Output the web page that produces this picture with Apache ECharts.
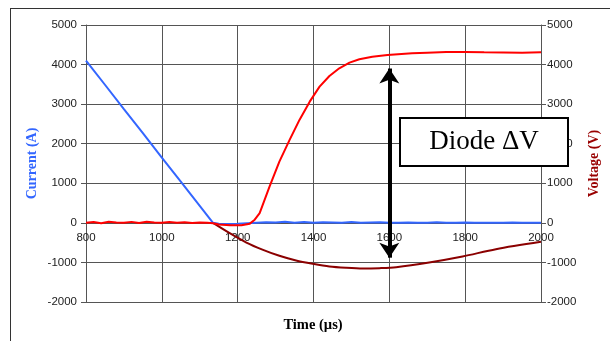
<!DOCTYPE html>
<html>
<head>
<meta charset="utf-8">
<script src="https://cdn.jsdelivr.net/npm/echarts@6/dist/echarts.min.js"></script>
<style>html,body{margin:0;padding:0;background:#fff;}#c{width:610px;height:341px;}</style>
</head>
<body>
<div id="c"></div>
<script>
// X axis (time, µs) and Y axes ticks
const xTicks = [800, 1000, 1200, 1400, 1600, 1800, 2000];
const yTicks = [-2000, -1000, 0, 1000, 2000, 3000, 4000, 5000];

// Current (A) - blue
const currentTime = [800, 850, 900, 950, 1000, 1050, 1100, 1135, 1150, 1175, 1200, 1225, 1250, 1275, 1300, 1325, 1350, 1375, 1400, 1425, 1450, 1475, 1500, 1525, 1550, 1575, 1600, 1625, 1650, 1675, 1700, 1725, 1750, 1775, 1800, 1825, 1850, 1875, 1900, 1925, 1950, 1975, 2000];
const currentValues = [4100, 3490, 2875, 2265, 1650, 1040, 430, 0, -20, -30, -25, -10, 5, 15, 10, 25, 5, 20, 0, 15, 10, 5, 20, 0, 10, 15, 5, 0, 10, 5, 0, 15, 5, 0, 10, 5, 0, 5, 0, 10, 0, 5, 0];

// Voltage (V) - red
const voltageTime = [800, 820, 840, 860, 880, 900, 920, 940, 960, 980, 1000, 1020, 1040, 1060, 1080, 1100, 1120, 1135, 1150, 1180, 1210, 1232, 1245, 1258, 1284, 1310, 1337, 1363, 1390, 1416, 1442, 1468, 1495, 1521, 1555, 1595, 1660, 1700, 1750, 1800, 1850, 1900, 1950, 2000];
const voltageValues = [0, 20, -10, 30, 10, 0, 25, -5, 30, 10, 0, 20, 5, 15, -5, 10, 0, -10, -40, -60, -60, -20, 80, 245, 917, 1548, 2096, 2601, 3063, 3442, 3712, 3906, 4048, 4134, 4200, 4242, 4288, 4300, 4315, 4320, 4310, 4305, 4300, 4310];

// Reverse current - dark red
const reverseTime = [1135, 1179, 1223, 1267, 1310, 1354, 1398, 1442, 1486, 1530, 1574, 1618, 1705, 1793, 1881, 2000];
const reverseValues = [0, -260, -497, -682, -833, -952, -1035, -1103, -1136, -1154, -1145, -1120, -1002, -851, -665, -480];

// Annotation arrow (time, from, to)
const arrowTime = 1600;
const arrowFrom = 3900;
const arrowTo = -880;

const zip = (a, b) => a.map((v, i) => [v, b[i]]);

const chart = echarts.init(document.getElementById('c'), null, {renderer: 'canvas'});
const labelStyle = {color: '#222', fontSize: 11.5, fontFamily: 'Liberation Sans, Arial, sans-serif', formatter: v => String(v)};
const gridLine = {show: true, lineStyle: {color: '#555', width: 1}};

chart.setOption({
  animation: false,
  backgroundColor: '#fff',
  grid: {left: 86, right: 69, top: 25, bottom: 39, containLabel: false},
  xAxis: {
    type: 'value', min: xTicks[0], max: xTicks[xTicks.length - 1], interval: 200,
    position: 'bottom', offset: -79,
    axisLine: {show: true, onZero: false, lineStyle: {color: '#555', width: 1}},
    axisTick: {show: false},
    axisLabel: Object.assign({margin: 9}, labelStyle),
    splitLine: gridLine
  },
  yAxis: [
    {
      type: 'value', min: yTicks[0], max: yTicks[yTicks.length - 1], interval: 1000, position: 'left',
      axisLine: {show: true, onZero: false, lineStyle: {color: '#555', width: 1}},
      axisTick: {show: true, length: 5, lineStyle: {color: '#555'}},
      axisLabel: Object.assign({margin: 9}, labelStyle),
      splitLine: gridLine,
      name: 'Current (A)', nameLocation: 'middle', nameRotate: 90, nameGap: 47, nameMoveOverlap: false,
      nameTextStyle: {color: '#3366ff', fontWeight: 'bold', fontSize: 14, fontFamily: 'Liberation Serif, Times New Roman, serif'}
    },
    {
      type: 'value', min: yTicks[0], max: yTicks[yTicks.length - 1], interval: 1000, position: 'right',
      axisLine: {show: true, onZero: false, lineStyle: {color: '#555', width: 1}},
      axisTick: {show: true, length: 5, lineStyle: {color: '#555'}},
      axisLabel: Object.assign({margin: 6}, labelStyle),
      splitLine: {show: false},
      name: 'Voltage (V)', nameLocation: 'middle', nameRotate: 90, nameGap: 46,
      nameTextStyle: {color: '#990000', fontWeight: 'bold', fontSize: 14, fontFamily: 'Liberation Serif, Times New Roman, serif'}
    }
  ],
  series: [
    {
      type: 'line', name: 'Current', yAxisIndex: 0, data: zip(currentTime, currentValues),
      showSymbol: false, lineStyle: {color: '#3366ff', width: 2}, itemStyle: {color: '#3366ff'}, z: 3
    },
    {
      type: 'line', name: 'Reverse', yAxisIndex: 0, data: zip(reverseTime, reverseValues),
      showSymbol: false, smooth: 0.3, lineStyle: {color: '#8b0000', width: 2}, itemStyle: {color: '#8b0000'}, z: 2
    },
    {
      type: 'line', name: 'Voltage', yAxisIndex: 1, data: zip(voltageTime, voltageValues),
      showSymbol: false, lineStyle: {color: '#ff0000', width: 2}, itemStyle: {color: '#ff0000'}, z: 4,
      markLine: {
        silent: true, symbol: ['arrow', 'arrow'], symbolSize: [15, 15],
        label: {show: false},
        lineStyle: {color: '#000', width: 4, type: 'solid'},
        data: [[{coord: [arrowTime, arrowFrom]}, {coord: [arrowTime, arrowTo]}]]
      }
    }
  ],
  graphic: [
    {type: 'line', shape: {x1: 10.5, y1: 8, x2: 10.5, y2: 341}, style: {stroke: '#333', lineWidth: 1}, z: 100},
    {type: 'line', shape: {x1: 10, y1: 8.5, x2: 610, y2: 8.5}, style: {stroke: '#333', lineWidth: 1}, z: 100},
    {type: 'rect', shape: {x: 400, y: 118, width: 168, height: 48}, style: {fill: '#fff', stroke: '#000', lineWidth: 2}, z: 100},
    {type: 'text', x: 484, y: 142, style: {text: 'Diode ΔV', font: '27px "Liberation Serif", "Times New Roman", serif', fill: '#000', textAlign: 'center', textVerticalAlign: 'middle'}, z: 101},
    {type: 'text', x: 313, y: 325, style: {text: 'Time (µs)', font: 'bold 14.5px "Liberation Serif", "Times New Roman", serif', fill: '#000', textAlign: 'center', textVerticalAlign: 'middle'}, z: 101}
  ]
});
</script>
</body>
</html>
